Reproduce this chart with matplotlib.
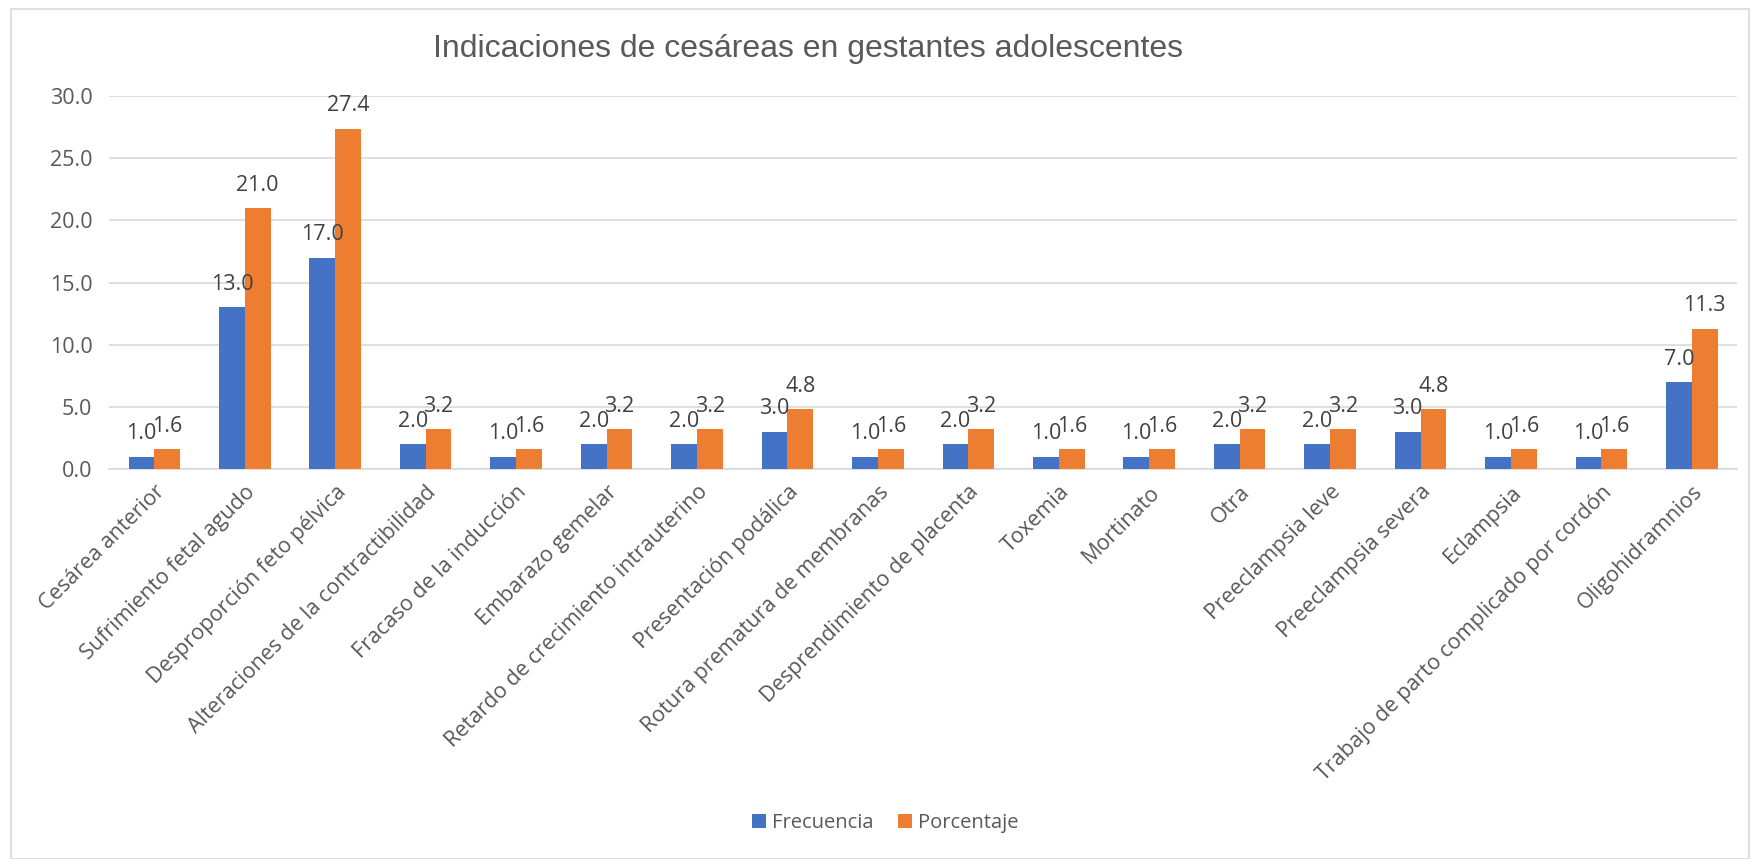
import numpy as np
import matplotlib.pyplot as plt
from matplotlib.patches import Rectangle

categorias = ["Cesárea anterior", "Sufrimiento fetal agudo", "Desproporción feto pélvica",
              "Alteraciones de la contractibilidad", "Fracaso de la inducción", "Embarazo gemelar",
              "Retardo de crecimiento intrauterino", "Presentación podálica",
              "Rotura prematura de membranas", "Desprendimiento de placenta", "Toxemia",
              "Mortinato", "Otra", "Preeclampsia leve", "Preeclampsia severa", "Eclampsia",
              "Trabajo de parto complicado por cordón", "Oligohidramnios"]
frecuencia = [1, 13, 17, 2, 1, 2, 2, 3, 1, 2, 1, 1, 2, 2, 3, 1, 1, 7]
porcentaje = [1.6, 21.0, 27.4, 3.2, 1.6, 3.2, 3.2, 4.8, 1.6, 3.2, 1.6, 1.6, 3.2, 3.2, 4.8, 1.6, 1.6, 11.3]
yticks = [0, 5, 10, 15, 20, 25, 30]

plt.rcParams['font.family'] = ['Open Sans', 'DejaVu Sans']
azul = '#4472C4'
naranja = '#ED7D31'
gris = '#595959'

fig = plt.figure(figsize=(17.6, 8.59), dpi=100)
ax = fig.add_axes([0.062, 0.454, 0.925, 0.434])

x = np.arange(len(categorias))
w = 0.285
b1 = ax.bar(x - w/2, frecuencia, w, color=azul, label='Frecuencia', zorder=3)
b2 = ax.bar(x + w/2, porcentaje, w, color=naranja, label='Porcentaje', zorder=3)

# etiquetas de datos encima de cada barra
for barras, vals in [(b1, frecuencia), (b2, porcentaje)]:
    for rect, v in zip(barras, vals):
        ax.text(rect.get_x() + rect.get_width()/2, v + 1.0, f"{v:.1f}", ha='center', va='bottom',
                fontsize=15.5, color='#404040', zorder=4)

ax.set_xlim(-0.5, len(categorias) - 0.5)
ax.set_ylim(0, 30)
ax.set_yticks(yticks)
ax.set_yticklabels([f"{t:.1f}" for t in yticks], fontsize=15.5, color=gris)
ax.yaxis.grid(True, color='#D9D9D9', linewidth=1.2, zorder=0)
ax.set_xticks(x)
ax.set_xticklabels(categorias, rotation=45, ha='right', rotation_mode='anchor',
                   fontsize=15.5, color=gris)
ax.tick_params(axis='both', length=0)
ax.tick_params(axis='y', pad=12)
ax.tick_params(axis='x', pad=9)
for s in ['top', 'right', 'left']:
    ax.spines[s].set_visible(False)
ax.spines['bottom'].set_color('#D9D9D9')
ax.spines['bottom'].set_linewidth(1.2)

fig.text(0.459, 0.943, "Indicaciones de cesáreas en gestantes adolescentes", ha='center', va='center',
         fontsize=23, color=gris, family=['Liberation Sans', 'DejaVu Sans'])

fig.legend(handles=[b1, b2], loc='center', bbox_to_anchor=(0.503, 0.042), ncol=2, frameon=False,
           fontsize=14.5, handlelength=0.7, handleheight=0.7, handletextpad=0.3, columnspacing=1.2,
           labelcolor=gris)

fig.patches.append(Rectangle((0.006, 0.0), 0.988, 0.99, transform=fig.transFigure,
                             fill=False, edgecolor='#D9D9D9', linewidth=1.2))

fig.savefig('out.png', dpi=100)
